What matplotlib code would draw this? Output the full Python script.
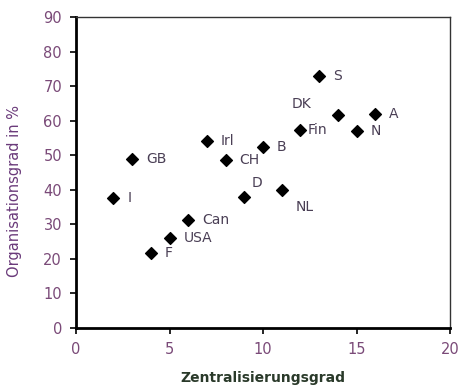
import matplotlib
matplotlib.use("Agg")
import matplotlib.pyplot as plt

plt.rcParams['font.family'] = ['DejaVu Sans']

# Länder, Zentralisierungsgrad, Organisationsgrad
laender = ['I', 'GB', 'F', 'USA', 'Can', 'Irl', 'CH', 'D', 'B', 'NL',
           'Fin', 'S', 'DK', 'N', 'A']
zentral = [2, 3, 4, 5, 6, 7, 8, 9, 10, 11, 12, 13, 14, 15, 16]
organis = [37.6, 48.9, 21.7, 26.0, 31.2, 54.1, 48.6, 37.9, 52.4, 39.9,
           57.3, 72.9, 61.6, 57.0, 61.9]

# Beschriftungsversatz (Punkte)
offsets = {'DK': (-33, 8), 'D': (5, 10), 'NL': (10, -12), 'Fin': (5, 0)}

txt_col = '#4a3f55'
tick_col = '#7a4a78'

fig = plt.figure(figsize=(4.61, 3.88), dpi=100)
ax = fig.add_axes([76 / 461, 1 - 328 / 388, 374 / 461, 311 / 388])

ax.scatter(zentral, organis, marker='D', s=36, color='black', zorder=3)

for name, x, y in zip(laender, zentral, organis):
    dx, dy = offsets.get(name, (10, 0))
    ax.annotate(name, (x, y), xytext=(dx, dy), textcoords='offset points',
                va='center', ha='left', fontsize=10, color=txt_col)

ax.set_xlim(0, 20)
ax.set_ylim(0, 90)
ax.set_xticks([0, 5, 10, 15, 20])
ax.set_yticks(range(0, 91, 10))
ax.tick_params(direction='out', length=4, width=1.2, colors='black',
               labelcolor=tick_col, labelsize=10.5, pad=6)
for s in ['left', 'bottom']:
    ax.spines[s].set_linewidth(2)
for s in ['top', 'right']:
    ax.spines[s].set_linewidth(1)
    ax.spines[s].set_color('#333333')

ax.set_xlabel('Zentralisierungsgrad', fontsize=10, color='#2a3a2a',
              fontweight='bold', labelpad=10)
ax.set_ylabel('Organisationsgrad in %', fontsize=10.5, color='#6a3a7a')
ax.yaxis.set_label_coords(-0.145, 0.44)

fig.savefig('out.png', dpi=100)
